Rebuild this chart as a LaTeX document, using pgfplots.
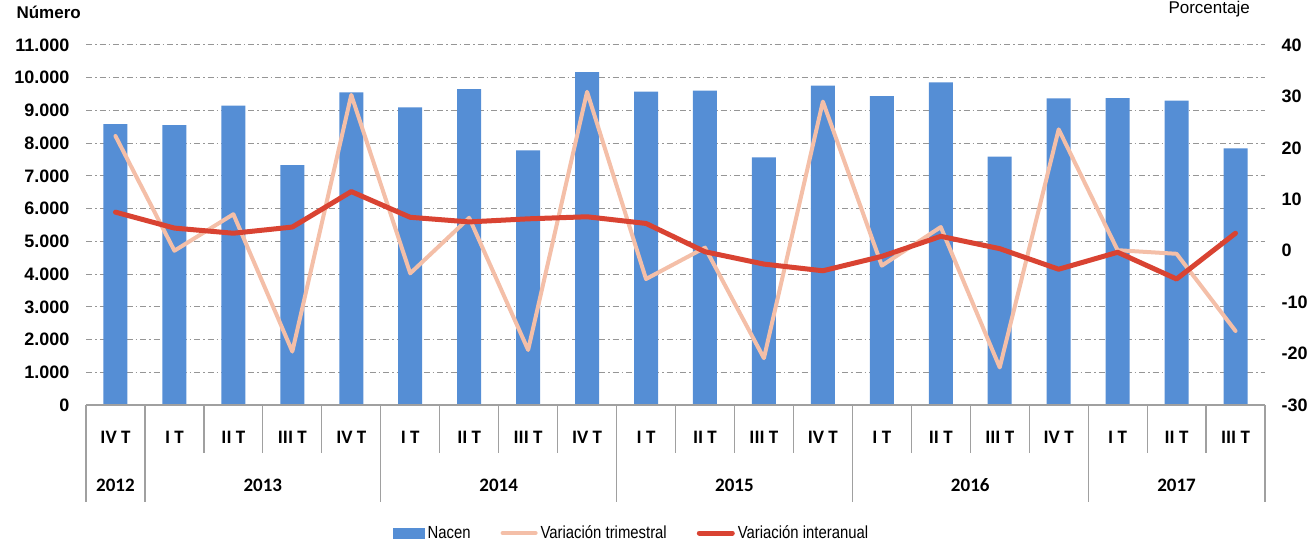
\documentclass[border=0pt]{standalone}
\usepackage{pgfplots}
\pgfplotsset{compat=1.18}
\usepackage{fontspec}
\setmainfont{Liberation Sans}
\newfontfamily\calib{Carlito}
\newfontfamily\narrow[FakeStretch=0.85]{Liberation Sans}
\definecolor{barblue}{RGB}{85,142,213}
\definecolor{lightsal}{RGB}{244,191,168}
\definecolor{redline}{RGB}{217,67,50}
\definecolor{gridgray}{RGB}{150,150,150}
\definecolor{axgray}{RGB}{160,160,160}
\begin{document}
\begin{tikzpicture}
\useasboundingbox (0,0) rectangle (1309pt,547pt);
\begin{axis}[
  at={(86pt,142pt)}, anchor=south west,
  width=1179pt, height=360pt, scale only axis,
  xmin=-0.5, xmax=19.5, ymin=0, ymax=11000,
  clip=false,
  scaled y ticks=false,
  axis line style={draw=none},
  ytick={0,1000,...,11000},
  yticklabels={0,1.000,2.000,3.000,4.000,5.000,6.000,7.000,8.000,9.000,10.000,11.000},
  yticklabel style={font=\bfseries\fontsize{18}{18}\selectfont, xshift=-13pt},
  ytick style={draw=none},
  ymajorgrids,
  grid style={gridgray, line width=1pt, dash pattern=on 6pt off 3pt on 1.5pt off 3pt},
  xtick={0,...,19},
  xticklabels={IV T,I T,II T,III T,IV T,I T,II T,III T,IV T,I T,II T,III T,IV T,I T,II T,III T,IV T,I T,II T,III T},
  xticklabel style={font=\calib\bfseries\fontsize{19}{19}\selectfont, anchor=base, yshift=-38pt},
  xtick style={draw=none},
]
\addplot[ybar, bar width=24pt, fill=barblue, draw=none] coordinates {
(0,8585) (1,8555) (2,9145) (3,7333) (4,9553) (5,9095) (6,9655) (7,7781) (8,10174) (9,9573)
(10,9603) (11,7567) (12,9756) (13,9441) (14,9859) (15,7587) (16,9371) (17,9380) (18,9298) (19,7843)};
\draw[axgray, line width=1.5pt] (rel axis cs:0,0) -- (rel axis cs:1,0);
\pgfplotsinvokeforeach{1.5,2.5,3.5,5.5,6.5,7.5,9.5,10.5,11.5,13.5,14.5,15.5,17.5,18.5}{
  \draw[axgray, line width=1.2pt] (axis cs:#1,0) -- ++(0pt,-48pt);}
\pgfplotsinvokeforeach{-0.5,0.5,4.5,8.5,12.5,16.5,19.5}{
  \draw[axgray, line width=1.2pt] (axis cs:#1,0) -- ++(0pt,-97pt);}
\node[anchor=base, font=\calib\bfseries\fontsize{19}{19}\selectfont] at ([yshift=-86pt]axis cs:0,0) {2012};
\node[anchor=base, font=\calib\bfseries\fontsize{19}{19}\selectfont] at ([yshift=-86pt]axis cs:2.5,0) {2013};
\node[anchor=base, font=\calib\bfseries\fontsize{19}{19}\selectfont] at ([yshift=-86pt]axis cs:6.5,0) {2014};
\node[anchor=base, font=\calib\bfseries\fontsize{19}{19}\selectfont] at ([yshift=-86pt]axis cs:10.5,0) {2015};
\node[anchor=base, font=\calib\bfseries\fontsize{19}{19}\selectfont] at ([yshift=-86pt]axis cs:14.5,0) {2016};
\node[anchor=base, font=\calib\bfseries\fontsize{19}{19}\selectfont] at ([yshift=-86pt]axis cs:18,0) {2017};
\end{axis}
\begin{axis}[
  at={(86pt,142pt)}, anchor=south west,
  width=1179pt, height=360pt, scale only axis,
  xmin=-0.5, xmax=19.5, ymin=-30, ymax=40,
  axis line style={draw=none},
  xtick=\empty,
  ytick={-30,-20,...,40},
  yticklabels={-30,-20,-10,0,10,20,30,40},
  yticklabel pos=right,
  yticklabel style={font=\bfseries\fontsize{18}{18}\selectfont, xshift=13pt},
  ytick style={draw=none},
  legend columns=3,
  legend style={at={(0.2604,-0.3556)}, anchor=west, draw=none, inner sep=0pt,
    font=\narrow\fontsize{17.5}{17.5}\selectfont, column sep=2pt,
    /tikz/every even column/.append style={column sep=29pt},
    nodes={inner sep=1pt}},
]
\addlegendimage{area legend, legend image code/.code={\fill[barblue] (0pt,-4.7pt) rectangle (31pt,4.7pt);}}
\addlegendentry{Nacen}
\addplot[lightsal, line width=4pt, line join=round, line cap=round,
  legend image code/.code={\draw[lightsal, line width=4pt, line cap=round] (0pt,0pt) -- (33pt,0pt);}] coordinates {
(0,22.3) (1,0.0) (2,7.1) (3,-19.6) (4,30.3) (5,-4.4) (6,6.4) (7,-19.3) (8,30.9) (9,-5.5)
(10,0.6) (11,-20.9) (12,29.0) (13,-2.9) (14,4.6) (15,-22.7) (16,23.6) (17,0.1) (18,-0.6) (19,-15.6)};
\addlegendentry{Variación trimestral}
\addplot[redline, line width=5pt, line join=round, line cap=round,
  legend image code/.code={\draw[redline, line width=5pt, line cap=round] (0pt,0pt) -- (33pt,0pt);}] coordinates {
(0,7.5) (1,4.4) (2,3.4) (3,4.6) (4,11.5) (5,6.5) (6,5.6) (7,6.2) (8,6.6) (9,5.3)
(10,-0.2) (11,-2.6) (12,-3.9) (13,-1.1) (14,2.8) (15,0.4) (16,-3.6) (17,-0.3) (18,-5.5) (19,3.4)};
\addlegendentry{Variación interanual}
\end{axis}
\node[anchor=base west, font=\bfseries\fontsize{17}{17}\selectfont] at (13pt,528.7pt) {Número};
\node[anchor=base west, font=\fontsize{17}{17}\selectfont] at (1165pt,533.5pt) {Porcentaje};
\end{tikzpicture}
\end{document}
